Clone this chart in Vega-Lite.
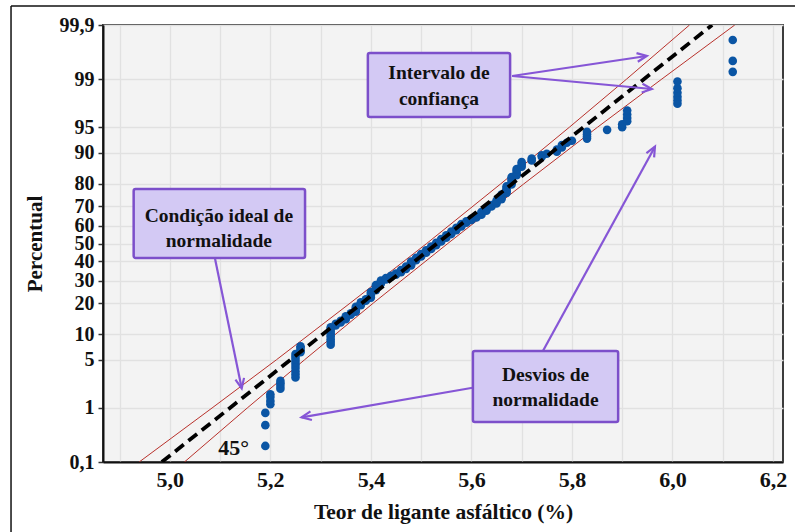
{
  "$schema": "https://vega.github.io/schema/vega-lite/v6.json",
  "width": 680,
  "height": 437,
  "autosize": {"type": "none"},
  "padding": {"left": 103, "top": 25, "right": 12, "bottom": 70},
  "background": "white",
  "config": {
    "font": "Liberation Serif",
    "view": {"fill": "#f3f3f3", "stroke": "#3c3c3c", "strokeWidth": 2}
  },
  "datasets": {
    "frame": [
      {"x": 4.684, "p": 99.961, "x2": 6.3, "p2": 99.961},
      {"x": 4.684, "p": 99.961, "x2": 4.684, "p2": 0.0001}
    ],
    "ci": [
      {"band": "superior", "x": 4.939, "p": 0.1},
      {"band": "superior", "x": 5.084, "p": 1},
      {"band": "superior", "x": 5.212, "p": 5},
      {"band": "superior", "x": 5.359, "p": 20},
      {"band": "superior", "x": 5.511, "p": 50},
      {"band": "superior", "x": 5.658, "p": 80},
      {"band": "superior", "x": 5.795, "p": 95},
      {"band": "superior", "x": 5.909, "p": 99},
      {"band": "superior", "x": 6.034, "p": 99.9},
      {"band": "inferior", "x": 5.029, "p": 0.1},
      {"band": "inferior", "x": 5.154, "p": 1},
      {"band": "inferior", "x": 5.268, "p": 5},
      {"band": "inferior", "x": 5.405, "p": 20},
      {"band": "inferior", "x": 5.553, "p": 50},
      {"band": "inferior", "x": 5.704, "p": 80},
      {"band": "inferior", "x": 5.851, "p": 95},
      {"band": "inferior", "x": 5.979, "p": 99},
      {"band": "inferior", "x": 6.124, "p": 99.9}
    ],
    "fit": [
      {"x": 4.984, "p": 0.1},
      {"x": 6.079, "p": 99.9}
    ],
    "obs": [
      {"x": 5.19, "p": 0.21}, {"x": 5.19, "p": 0.51}, {"x": 5.19, "p": 0.83},
      {"x": 5.20, "p": 1.15}, {"x": 5.20, "p": 1.3}, {"x": 5.20, "p": 1.5}, {"x": 5.20, "p": 1.65},
      {"x": 5.22, "p": 2.0}, {"x": 5.22, "p": 2.2}, {"x": 5.22, "p": 2.4}, {"x": 5.22, "p": 2.6},
      {"x": 5.25, "p": 2.9}, {"x": 5.25, "p": 3.2}, {"x": 5.25, "p": 3.5}, {"x": 5.25, "p": 3.9}, {"x": 5.25, "p": 4.3},
      {"x": 5.25, "p": 4.7}, {"x": 5.25, "p": 5.1}, {"x": 5.25, "p": 5.5}, {"x": 5.25, "p": 5.9},
      {"x": 5.26, "p": 6.2}, {"x": 5.26, "p": 6.6}, {"x": 5.26, "p": 7.0}, {"x": 5.26, "p": 7.3},
      {"x": 5.32, "p": 7.6}, {"x": 5.32, "p": 8.2}, {"x": 5.32, "p": 8.8}, {"x": 5.32, "p": 9.4},
      {"x": 5.32, "p": 10.0}, {"x": 5.32, "p": 10.6}, {"x": 5.32, "p": 11.2}, {"x": 5.32, "p": 11.8},
      {"x": 5.33, "p": 12.3}, {"x": 5.33, "p": 12.8},
      {"x": 5.34, "p": 13.2}, {"x": 5.34, "p": 13.7},
      {"x": 5.35, "p": 14.2}, {"x": 5.35, "p": 14.7}, {"x": 5.35, "p": 15.2},
      {"x": 5.36, "p": 15.7}, {"x": 5.36, "p": 16.2},
      {"x": 5.37, "p": 16.7}, {"x": 5.37, "p": 17.3}, {"x": 5.37, "p": 17.9}, {"x": 5.37, "p": 18.5},
      {"x": 5.38, "p": 19.1}, {"x": 5.38, "p": 19.7}, {"x": 5.38, "p": 20.3},
      {"x": 5.39, "p": 20.9}, {"x": 5.39, "p": 21.5},
      {"x": 5.40, "p": 22.2}, {"x": 5.40, "p": 23.0}, {"x": 5.40, "p": 23.8}, {"x": 5.40, "p": 24.6},
      {"x": 5.41, "p": 25.4}, {"x": 5.41, "p": 26.2}, {"x": 5.41, "p": 27.0}, {"x": 5.41, "p": 27.8},
      {"x": 5.42, "p": 28.6}, {"x": 5.42, "p": 29.4}, {"x": 5.42, "p": 30.0},
      {"x": 5.43, "p": 30.6}, {"x": 5.43, "p": 31.2},
      {"x": 5.44, "p": 31.8}, {"x": 5.44, "p": 32.4},
      {"x": 5.45, "p": 33.0}, {"x": 5.45, "p": 33.6},
      {"x": 5.46, "p": 34.2}, {"x": 5.46, "p": 34.8}, {"x": 5.46, "p": 35.4},
      {"x": 5.47, "p": 36.0}, {"x": 5.47, "p": 36.6}, {"x": 5.47, "p": 37.2},
      {"x": 5.48, "p": 37.8}, {"x": 5.48, "p": 38.5}, {"x": 5.48, "p": 39.2}, {"x": 5.48, "p": 39.9},
      {"x": 5.49, "p": 40.6}, {"x": 5.49, "p": 41.3}, {"x": 5.49, "p": 42.0},
      {"x": 5.50, "p": 42.7}, {"x": 5.50, "p": 43.4}, {"x": 5.50, "p": 44.1},
      {"x": 5.51, "p": 44.8}, {"x": 5.51, "p": 45.5}, {"x": 5.51, "p": 46.2},
      {"x": 5.52, "p": 46.9}, {"x": 5.52, "p": 47.6}, {"x": 5.52, "p": 48.3},
      {"x": 5.53, "p": 49.0}, {"x": 5.53, "p": 49.7}, {"x": 5.53, "p": 50.4},
      {"x": 5.54, "p": 51.1}, {"x": 5.54, "p": 51.8}, {"x": 5.54, "p": 52.5},
      {"x": 5.55, "p": 53.2}, {"x": 5.55, "p": 53.9}, {"x": 5.55, "p": 54.6},
      {"x": 5.56, "p": 55.3}, {"x": 5.56, "p": 56.0}, {"x": 5.56, "p": 56.7},
      {"x": 5.57, "p": 57.4}, {"x": 5.57, "p": 58.1}, {"x": 5.57, "p": 58.8},
      {"x": 5.58, "p": 59.5}, {"x": 5.58, "p": 60.2}, {"x": 5.58, "p": 60.9},
      {"x": 5.59, "p": 61.6}, {"x": 5.59, "p": 62.3},
      {"x": 5.60, "p": 63.0}, {"x": 5.60, "p": 63.7},
      {"x": 5.61, "p": 64.4}, {"x": 5.61, "p": 65.1},
      {"x": 5.62, "p": 65.8}, {"x": 5.62, "p": 66.5}, {"x": 5.62, "p": 67.2},
      {"x": 5.63, "p": 67.9}, {"x": 5.63, "p": 68.6}, {"x": 5.63, "p": 69.3},
      {"x": 5.64, "p": 70.0}, {"x": 5.64, "p": 70.7},
      {"x": 5.65, "p": 71.4}, {"x": 5.65, "p": 72.1}, {"x": 5.65, "p": 72.8},
      {"x": 5.66, "p": 73.5}, {"x": 5.66, "p": 74.2}, {"x": 5.66, "p": 74.9}, {"x": 5.66, "p": 75.6},
      {"x": 5.67, "p": 76.3}, {"x": 5.67, "p": 77.0}, {"x": 5.67, "p": 77.7}, {"x": 5.67, "p": 78.4}, {"x": 5.67, "p": 79.1},
      {"x": 5.68, "p": 79.8}, {"x": 5.68, "p": 80.5}, {"x": 5.68, "p": 81.2}, {"x": 5.68, "p": 81.9}, {"x": 5.68, "p": 82.6},
      {"x": 5.69, "p": 83.3}, {"x": 5.69, "p": 84.0}, {"x": 5.69, "p": 84.7}, {"x": 5.69, "p": 85.4},
      {"x": 5.70, "p": 86.1}, {"x": 5.70, "p": 86.8}, {"x": 5.70, "p": 87.5},
      {"x": 5.72, "p": 88.0}, {"x": 5.72, "p": 88.5},
      {"x": 5.74, "p": 89.0}, {"x": 5.74, "p": 89.4},
      {"x": 5.75, "p": 89.8},
      {"x": 5.77, "p": 90.3}, {"x": 5.77, "p": 90.8},
      {"x": 5.78, "p": 91.3}, {"x": 5.78, "p": 91.8},
      {"x": 5.79, "p": 92.3},
      {"x": 5.80, "p": 92.7},
      {"x": 5.83, "p": 93.1}, {"x": 5.83, "p": 93.5}, {"x": 5.83, "p": 93.9}, {"x": 5.83, "p": 94.3},
      {"x": 5.87, "p": 94.6},
      {"x": 5.90, "p": 95.0}, {"x": 5.90, "p": 95.4},
      {"x": 5.91, "p": 95.8}, {"x": 5.91, "p": 96.2}, {"x": 5.91, "p": 96.6}, {"x": 5.91, "p": 97.0},
      {"x": 6.01, "p": 97.6}, {"x": 6.01, "p": 97.85}, {"x": 6.01, "p": 98.1}, {"x": 6.01, "p": 98.35},
      {"x": 6.01, "p": 98.6}, {"x": 6.01, "p": 98.9},
      {"x": 6.12, "p": 99.24}, {"x": 6.12, "p": 99.51}, {"x": 6.12, "p": 99.8}
    ],
    "arrows": [
      {"x": 5.681, "p": 99.108, "x2": 5.949, "p2": 99.6},
      {"x": 5.681, "p": 99.108, "x2": 5.959, "p2": 98.556},
      {"x": 5.0896, "p": 41.88, "x2": 5.143, "p2": 2.028},
      {"x": 5.7423, "p": 6.42, "x2": 5.9652, "p2": 91.45},
      {"x": 5.6024, "p": 2.069, "x2": 5.2621, "p2": 0.698}
    ],
    "boxes": [
      {"x": 5.394, "p": 99.647, "x2": 5.677, "p2": 96.32},
      {"x": 4.928, "p": 77.96, "x2": 5.269, "p2": 41.88},
      {"x": 5.603, "p": 6.42, "x2": 5.892, "p2": 0.578}
    ],
    "notes": [
      {"x": 5.5355, "p": 99.21, "label": "Intervalo de"},
      {"x": 5.5355, "p": 97.95, "label": "confiança"},
      {"x": 5.0975, "p": 65.14, "label": "Condição ideal de"},
      {"x": 5.0975, "p": 51.41, "label": "normalidade"},
      {"x": 5.7475, "p": 3.14, "label": "Desvios de"},
      {"x": 5.7475, "p": 1.34, "label": "normalidade"}
    ],
    "slope": [
      {"x": 5.127, "p": 0.191, "label": "45°"}
    ]
  },
  "encoding": {
    "x": {
      "field": "x",
      "type": "quantitative",
      "scale": {"domain": [4.867, 6.22], "nice": false, "zero": false},
      "axis": {
        "title": "Teor de ligante asfáltico (%)",
        "values": [4.9, 5.0, 5.1, 5.2, 5.3, 5.4, 5.5, 5.6, 5.7, 5.8, 5.9, 6.0, 6.1, 6.2],
        "labelExpr": "round(datum.value * 10) % 2 == 0 ? replace(format(datum.value, '.1f'), '.', ',') : ''",
        "ticks": false,
        "grid": true,
        "gridColor": "#e1e1e1",
        "gridWidth": 1.3,
        "domainColor": "#111111",
        "domainWidth": 2,
        "labelFont": "Liberation Serif",
        "labelFontWeight": "bold",
        "labelFontSize": 22,
        "labelColor": "#111111",
        "labelPadding": 7,
        "labelFlush": false,
        "labelOverlap": false,
        "titleFont": "Liberation Serif",
        "titleFontWeight": "bold",
        "titleFontSize": 21.5,
        "titleColor": "#111111",
        "titlePadding": 11
      }
    },
    "y": {
      "field": "z",
      "type": "quantitative",
      "scale": {"domain": [-3.0902, 3.0902], "nice": false, "zero": false},
      "axis": {
        "title": "Percentual",
        "values": [-3.0902, -2.3263, -1.6449, -1.2816, -0.8416, -0.5244, -0.2533, 0, 0.2533, 0.5244, 0.8416, 1.2816, 1.6449, 2.3263, 3.0902],
        "labelExpr": "datum.value < -3 ? '0,1' : datum.value > 3 ? '99,9' : format(round(cumulativeNormal(datum.value) * 100), 'd')",
        "ticks": true,
        "tickSize": 5,
        "tickColor": "#333333",
        "tickWidth": 1.5,
        "grid": true,
        "gridColor": "#e1e1e1",
        "gridWidth": 1.3,
        "domainColor": "#111111",
        "domainWidth": 2,
        "labelFont": "Liberation Serif",
        "labelFontWeight": "bold",
        "labelFontSize": 20,
        "labelColor": "#111111",
        "labelPadding": 4,
        "labelOverlap": false,
        "labelBaseline": "middle",
        "titleFont": "Liberation Serif",
        "titleFontWeight": "bold",
        "titleFontSize": 21,
        "titleColor": "#111111",
        "titlePadding": 14
      }
    }
  },
  "layer": [
    {
      "data": {"name": "frame"},
      "transform": [
        {"calculate": "quantileNormal(datum.p / 100)", "as": "z"},
        {"calculate": "quantileNormal(datum.p2 / 100)", "as": "z2"}
      ],
      "mark": {"type": "rule", "stroke": "#111111", "strokeWidth": 1.5, "clip": false},
      "encoding": {"x2": {"field": "x2"}, "y2": {"field": "z2"}}
    },
    {
      "data": {"name": "ci"},
      "transform": [{"calculate": "quantileNormal(datum.p / 100)", "as": "z"}],
      "mark": {"type": "line", "stroke": "#b8312b", "strokeWidth": 1, "clip": true},
      "encoding": {"detail": {"field": "band"}, "order": {"field": "p", "type": "quantitative"}}
    },
    {
      "data": {"name": "obs"},
      "transform": [{"calculate": "quantileNormal(datum.p / 100)", "as": "z"}],
      "mark": {"type": "point", "shape": "circle", "filled": true, "size": 74, "color": "#0a55a4", "opacity": 1}
    },
    {
      "data": {"name": "fit"},
      "transform": [{"calculate": "quantileNormal(datum.p / 100)", "as": "z"}],
      "mark": {"type": "line", "stroke": "#000000", "strokeWidth": 3.8, "strokeDash": [11, 6], "clip": true},
      "encoding": {"order": {"field": "p", "type": "quantitative"}}
    },
    {
      "data": {"name": "arrows"},
      "transform": [
        {"calculate": "quantileNormal(datum.p / 100)", "as": "z"},
        {"calculate": "quantileNormal(datum.p2 / 100)", "as": "z2"}
      ],
      "mark": {"type": "rule", "stroke": "#8656d6", "strokeWidth": 2.2},
      "encoding": {"x2": {"field": "x2"}, "y2": {"field": "z2"}}
    },
    {
      "data": {"name": "arrows"},
      "transform": [
        {"calculate": "quantileNormal(datum.p / 100)", "as": "z"},
        {"calculate": "quantileNormal(datum.p2 / 100)", "as": "z2"},
        {"calculate": "atan2((datum.x2 - datum.x) * 502.6, (datum.z2 - datum.z) * 70.71) * 180 / PI", "as": "heading"}
      ],
      "mark": {"type": "point", "shape": "M -0.45 1 L 0 0 L 0.45 1", "filled": false, "stroke": "#8656d6", "strokeWidth": 2.2, "size": 380, "opacity": 1},
      "encoding": {
        "x": {"field": "x2", "type": "quantitative", "scale": {"domain": [4.867, 6.22], "nice": false, "zero": false}},
        "y": {"field": "z2", "type": "quantitative", "scale": {"domain": [-3.0902, 3.0902], "nice": false, "zero": false}},
        "angle": {"field": "heading", "type": "quantitative", "scale": null}
      }
    },
    {
      "data": {"name": "boxes"},
      "transform": [
        {"calculate": "quantileNormal(datum.p / 100)", "as": "z"},
        {"calculate": "quantileNormal(datum.p2 / 100)", "as": "z2"}
      ],
      "mark": {"type": "rect", "fill": "#d3c9f4", "stroke": "#7c4fca", "strokeWidth": 2.5, "cornerRadius": 2},
      "encoding": {"x2": {"field": "x2"}, "y2": {"field": "z2"}}
    },
    {
      "data": {"name": "notes"},
      "transform": [{"calculate": "quantileNormal(datum.p / 100)", "as": "z"}],
      "mark": {"type": "text", "font": "Liberation Serif", "fontWeight": "bold", "fontSize": 19.5, "color": "#111111", "align": "center", "baseline": "middle"},
      "encoding": {"text": {"field": "label"}}
    },
    {
      "data": {"name": "slope"},
      "transform": [{"calculate": "quantileNormal(datum.p / 100)", "as": "z"}],
      "mark": {"type": "text", "font": "Liberation Serif", "fontWeight": "bold", "fontSize": 22, "color": "#111111", "align": "center", "baseline": "middle"},
      "encoding": {"text": {"field": "label"}}
    }
  ]
}
